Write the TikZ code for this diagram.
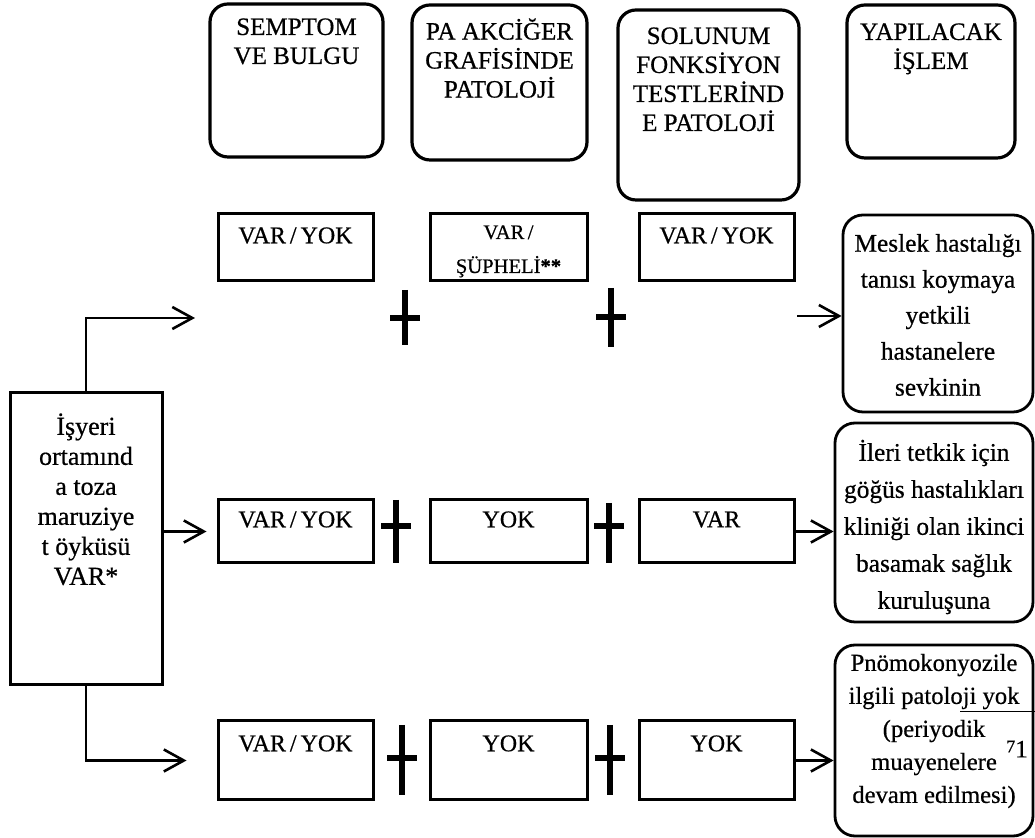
\documentclass[tikz,border=0pt]{standalone}
\usepackage{fontspec}
\setmainfont{Liberation Serif}[FakeBold=0.6]
\usetikzlibrary{arrows.meta,calc}
\tikzset{
  hdr/.style={draw, line width=1.6pt, rounded corners=9pt, inner sep=0pt},
  cell/.style={draw, line width=1.5pt, inner sep=0pt},
  act/.style={draw, line width=1.4pt, rounded corners=10pt, inner sep=0pt},
  lbl/.style={inner sep=0pt, align=center},
  hfont/.style={font=\fontsize{12.5}{14.5}\selectfont},
  cfont/.style={font=\fontsize{12}{14}\selectfont},
  conn/.style={line width=1.3pt, -{Straight Barb[length=10pt,width=11pt,line width=1.3pt]}},
  plussign/.style={line width=3pt},
}
\begin{document}
\begin{tikzpicture}[x=0.5pt,y=-0.5pt]
\useasboundingbox (0,0) rectangle (1035,838);

% header boxes
\node[hdr, minimum width=86.5pt, minimum height=76.5pt] (h1) at (296.5,80.5) {};
\node[hdr, minimum width=87.5pt, minimum height=77.5pt] (h2) at (499.5,82.5) {};
\node[hdr, minimum width=90.5pt, minimum height=95pt] (h3) at (708.5,105) {};
\node[hdr, minimum width=84pt, minimum height=76.5pt] (h4) at (931,81.5) {};
\node[lbl, hfont, anchor=north] (t1) at (296.5,18) {SEMPTOM\\VE BULGU};
\node[lbl, hfont, anchor=north] (t2) at (499.5,18) {PA AKCİĞER\\GRAFİSİNDE\\PATOLOJİ};
\node[lbl, hfont, anchor=north] (t3) at (708.5,27) {SOLUNUM\\FONKSİYON\\TESTLERİND\\E PATOLOJİ};
\node[lbl, hfont, anchor=north] (t4) at (931,23) {YAPILACAK\\İŞLEM};

% row 1
\node[cell, minimum width=77.5pt, minimum height=33.5pt] (r1a) at (295.5,247.5) {};
\node[cell, minimum width=78.5pt, minimum height=33.5pt] (r1b) at (508.5,247.5) {};
\node[cell, minimum width=77.5pt, minimum height=33.5pt] (r1c) at (716.5,247.5) {};
\node[lbl, cfont, anchor=north] (q1a) at (295.5,227) {VAR\,/\,YOK};
\node[lbl, anchor=north, font=\fontsize{10.3}{17}\selectfont] (q1b) at (508.5,225) {VAR\,/\\ŞÜPHELİ\textbf{**}};
\node[lbl, cfont, anchor=north] (q1c) at (716.5,227) {VAR\,/\,YOK};

% row 2
\node[cell, minimum width=77.5pt, minimum height=31.5pt] (r2a) at (295.5,531.5) {};
\node[cell, minimum width=78.5pt, minimum height=31.5pt] (r2b) at (508.5,531.5) {};
\node[cell, minimum width=77.5pt, minimum height=31.5pt] (r2c) at (716.5,531.5) {};
\node[lbl, cfont, anchor=north] (q2a) at (295.5,511) {VAR\,/\,YOK};
\node[lbl, cfont, anchor=north] (q2b) at (508.5,511) {YOK};
\node[lbl, cfont, anchor=north] (q2c) at (716.5,511) {VAR};

% row 3
\node[cell, minimum width=77.5pt, minimum height=39.5pt] (r3a) at (295.5,760.5) {};
\node[cell, minimum width=78.5pt, minimum height=39.5pt] (r3b) at (508.5,760.5) {};
\node[cell, minimum width=77.5pt, minimum height=39.5pt] (r3c) at (716.5,760.5) {};
\node[lbl, cfont, anchor=north] (q3a) at (295.5,735) {VAR\,/\,YOK};
\node[lbl, cfont, anchor=north] (q3b) at (508.5,735) {YOK};
\node[lbl, cfont, anchor=north] (q3c) at (716.5,735) {YOK};

% left box
\node[cell, minimum width=76pt, minimum height=146pt] (L) at (86,539) {};
\node[lbl, anchor=north, font=\fontsize{13}{15}\selectfont] (Lt) at (86,413)
  {İşyeri\\ortamınd\\a toza\\maruziye\\t öyküsü\\VAR*};

% right boxes
\node[act, minimum width=95pt, minimum height=98.5pt] (R1) at (938,313.5) {};
\node[act, minimum width=99pt, minimum height=99.5pt] (R2) at (934,522.5) {};
\node[act, minimum width=99pt, minimum height=95.5pt] (R3) at (934,740.5) {};
\node[lbl, font=\fontsize{12.7}{18}\selectfont] (R1t) at (938,315)
  {Meslek hastalığı\\tanısı koymaya\\yetkili\\hastanelere\\sevkinin};
\node[lbl, font=\fontsize{12.7}{18.5}\selectfont] (R2t) at (934,527)
  {İleri tetkik için\\göğüs hastalıkları\\kliniği olan ikinci\\basamak sağlık\\kuruluşuna};
\node[lbl, font=\fontsize{12.3}{16.5}\selectfont] (R3t) at (934,731)
  {Pnömokonyozile\\ilgili patoloji yok\\(periyodik\\muayenelere\\devam edilmesi)};

% plus signs
\draw[plussign] (405,290) -- (405,345); \draw[plussign] (390,318) -- (420,318);
\draw[plussign] (611,288) -- (611,347); \draw[plussign] (596,317) -- (626,317);
\draw[plussign] (396,500) -- (396,563); \draw[plussign] (381,526) -- (411,526);
\draw[plussign] (609,503) -- (609,563); \draw[plussign] (594,526) -- (624,526);
\draw[plussign] (402,725) -- (402,795); \draw[plussign] (387,758) -- (417,758);
\draw[plussign] (610,725) -- (610,795); \draw[plussign] (595,758) -- (625,758);

% connectors
\coordinate (e1) at (195,318);
\coordinate (s1) at (797,316);
\draw[conn] (L.north) |- (e1);
\draw[conn, shorten >=5pt] (L.east |- r2a.west) -- (r2a.west);
\draw[conn, shorten >=15pt] (L.south) |- (r3a.west);
\draw[conn] (s1) -- (s1 -| R1.west);
\draw[conn] (r2c.east) -- (r2c.east -| R2.west);
\draw[conn] (r3c.east) -- (r3c.east -| R3.west);

% page artefacts
\coordinate (f1) at (960,712);
\coordinate (f2) at (1035,712);
\draw[line width=0.5pt] (f1) -- (f2);
\node[lbl, font=\fontsize{12.5}{14}\selectfont] (pg) at (1017,749) {{\fontsize{9}{9}\selectfont\raisebox{2.5pt}{7}}1};
\end{tikzpicture}
\end{document}
